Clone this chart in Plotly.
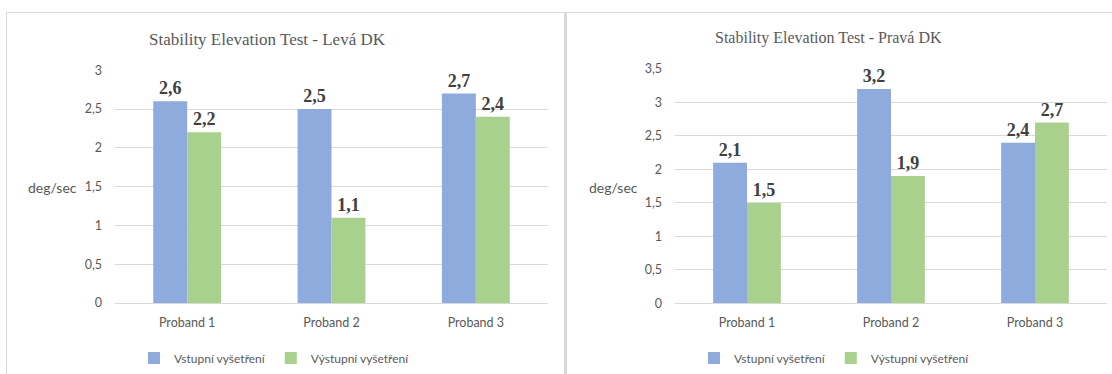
import plotly.graph_objects as go

# Data
categories = ["Proband 1", "Proband 2", "Proband 3"]
series_names = ["Vstupní vyšetření", "Výstupní vyšetření"]
leva_vstupni = [2.6, 2.5, 2.7]
leva_vystupni = [2.2, 1.1, 2.4]
prava_vstupni = [2.1, 3.2, 2.4]
prava_vystupni = [1.5, 1.9, 2.7]
titles = ["Stability Elevation Test - Levá DK", "Stability Elevation Test - Pravá DK"]
y_label = "deg/sec"

W, H = 1112, 374
BLUE = "#8FAADC"
GREEN = "#A9D18E"
GRID = "#D9D9D9"
GREY_TXT = "#595959"
LABEL_TXT = "#404040"
SANS = "Lato"
SERIF = "Liberation Serif"


def px_x(p):
    return p / W


def px_y(p):
    return 1 - p / H


fig = go.Figure()

panels = [
    dict(vals=(leva_vstupni, leva_vystupni), xa="x", ya="y", legend="legend"),
    dict(vals=(prava_vstupni, prava_vystupni), xa="x2", ya="y2", legend="legend2"),
]

for panel in panels:
    for name, vals, color in zip(series_names, panel["vals"], (BLUE, GREEN)):
        fig.add_trace(go.Bar(
            x=categories, y=vals, name=name,
            marker=dict(color=color, line=dict(width=0)),
            text=vals, texttemplate="<b>%{y:.1f}</b>", textposition="outside",
            textfont=dict(family=SERIF, size=18, color=LABEL_TXT),
            cliponaxis=False,
            xaxis=panel["xa"], yaxis=panel["ya"], legend=panel["legend"],
        ))

common_x = dict(
    showgrid=False, showline=True, linecolor=GRID, linewidth=1,
    ticks="", tickfont=dict(family=SANS, size=12.5, color=GREY_TXT),
    ticklabelstandoff=8, fixedrange=True, automargin=False,
)
common_y = dict(
    showgrid=True, gridcolor=GRID, gridwidth=1, zeroline=False,
    showline=False, ticks="", tickfont=dict(family=SANS, size=12.5, color=GREY_TXT),
    ticklabelstandoff=12, fixedrange=True, automargin=False,
)

legend_common = dict(
    orientation="h", xanchor="left", yanchor="middle", y=px_y(358),
    font=dict(family=SANS, size=12, color=GREY_TXT), bgcolor="rgba(0,0,0,0)",
    itemwidth=30, tracegroupgap=0,
)

fig.update_layout(
    width=W, height=H,
    margin=dict(l=0, r=0, t=0, b=0, pad=0, autoexpand=False),
    paper_bgcolor="white", plot_bgcolor="white",
    separators=", ",
    barmode="group", bargap=0.53, bargroupgap=0,
    showlegend=True,
    xaxis=dict(domain=[px_x(115), px_x(548)], anchor="y", **common_x),
    yaxis=dict(domain=[px_y(303), px_y(70.3)], anchor="x", range=[0, 3],
               dtick=0.5, tickformat=".1~f", **common_y),
    xaxis2=dict(domain=[px_x(675), px_x(1107)], anchor="y2", **common_x),
    yaxis2=dict(domain=[px_y(303.3), px_y(69)], anchor="x2", range=[0, 3.5],
                dtick=0.5, tickformat=".1~f", **common_y),
    legend=dict(x=px_x(134), **legend_common),
    legend2=dict(x=px_x(694), **legend_common),
)

# Panel frames
fig.add_shape(type="rect", xref="paper", yref="paper",
              x0=px_x(6.5), x1=px_x(565), y0=px_y(380), y1=px_y(12.5),
              line=dict(color=GRID, width=1), layer="below")
fig.add_shape(type="line", xref="paper", yref="paper",
              x0=px_x(565.5), x1=px_x(565.5), y0=px_y(380), y1=px_y(12),
              line=dict(color=GRID, width=3), layer="below")
fig.add_shape(type="line", xref="paper", yref="paper",
              x0=px_x(566), x1=px_x(1120), y0=px_y(12.5), y1=px_y(12.5),
              line=dict(color=GRID, width=1), layer="below")

# Titles and axis labels
fig.add_annotation(text=titles[0], xref="paper", yref="paper", x=px_x(267), y=px_y(40),
                   showarrow=False, xanchor="center", yanchor="middle",
                   font=dict(family=SERIF, size=17, color=GREY_TXT))
fig.add_annotation(text=titles[1], xref="paper", yref="paper", x=px_x(828), y=px_y(38),
                   showarrow=False, xanchor="center", yanchor="middle",
                   font=dict(family=SERIF, size=16, color=GREY_TXT))
fig.add_annotation(text=y_label, xref="paper", yref="paper", x=px_x(52), y=px_y(187),
                   showarrow=False, xanchor="center", yanchor="middle",
                   font=dict(family=SANS, size=14, color=GREY_TXT))
fig.add_annotation(text=y_label, xref="paper", yref="paper", x=px_x(613), y=px_y(187),
                   showarrow=False, xanchor="center", yanchor="middle",
                   font=dict(family=SANS, size=14, color=GREY_TXT))

fig.write_html("out.html")
